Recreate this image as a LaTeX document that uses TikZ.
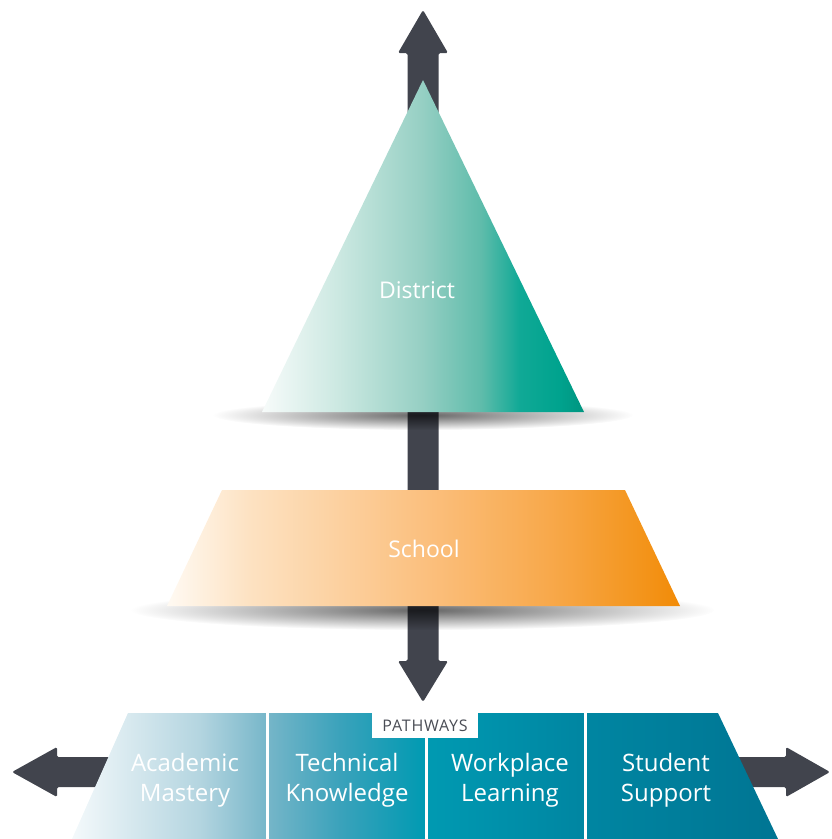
\documentclass[tikz,border=0pt]{standalone}
\usepackage{fontspec}
\setmainfont{Open Sans}
\usetikzlibrary{fadings}

\definecolor{arrowgray}{HTML}{41444D}
\definecolor{labelgray}{HTML}{4A4D55}
% District colours
\definecolor{dA}{HTML}{F7FBFA}
\definecolor{dB}{HTML}{CBE8E1}
\definecolor{dC}{HTML}{95CFC3}
\definecolor{dD}{HTML}{5FBCAB}
\definecolor{dE}{HTML}{10A996}
\definecolor{dF}{HTML}{00A38E}
\definecolor{dG}{HTML}{009580}
% School colours
\definecolor{sA}{HTML}{FFFAF3}
\definecolor{sB}{HTML}{FDE2C2}
\definecolor{sC}{HTML}{FBC07F}
\definecolor{sD}{HTML}{F8A94C}
\definecolor{sE}{HTML}{F3951D}
\definecolor{sF}{HTML}{F28B07}
% Pathways colours
\definecolor{pA}{HTML}{F4F9FB}
\definecolor{pB}{HTML}{B4D5E0}
\definecolor{pC}{HTML}{74B5C8}
\definecolor{pD}{HTML}{3AA2BB}
\definecolor{pE}{HTML}{009AB2}
\definecolor{pF}{HTML}{0086A2}
\definecolor{pG}{HTML}{007593}

\pgfdeclarehorizontalshading{districtshade}{100bp}{color(0bp)=(dA); color(25bp)=(dA); color(37bp)=(dB); color(50bp)=(dC); color(59bp)=(dD); color(65bp)=(dE); color(71bp)=(dF); color(75bp)=(dG); color(100bp)=(dG)}
\pgfdeclarehorizontalshading{schoolshade}{100bp}{color(0bp)=(sA); color(25bp)=(sA); color(33bp)=(sB); color(50bp)=(sC); color(62bp)=(sD); color(71bp)=(sE); color(75bp)=(sF); color(100bp)=(sF)}
\pgfdeclarehorizontalshading{pathshade}{100bp}{color(0bp)=(pA); color(25bp)=(pA); color(34bp)=(pB); color(39bp)=(pC); color(44bp)=(pD); color(50bp)=(pE); color(61bp)=(pF); color(75bp)=(pG); color(100bp)=(pG)}

\tikzfading[name=shadowfade, inner color=transparent!40, outer color=transparent!100]

\tikzset{
  arrowbody/.style={fill=arrowgray, rounded corners=1.5pt},
  floorshadow/.style={fill=black, path fading=shadowfade},
  layerlabel/.style={text=white, font=\fontsize{23}{28}\selectfont},
  pathlabel/.style={text=white, align=center, font=\fontsize{24}{30}\selectfont},
  divider/.style={white, line width=3pt},
}

\begin{document}
\begin{tikzpicture}[x=1pt,y=-1pt]
    \useasboundingbox (0,0) rectangle (831,839);

    % Arrows
    \path[arrowbody] (12,772) -- (57,747) -- (57,757) -- (786,757) -- (786,747)
        -- (830,772) -- (786,797) -- (786,787) -- (57,787) -- (57,797) -- cycle;
    \path[arrowbody] (423,10) -- (448,53) -- (438.5,53) -- (438.5,661) -- (448,661)
        -- (423,702) -- (398,661) -- (407.5,661) -- (407.5,53) -- (398,53) -- cycle;

    % Shadows
    \path[floorshadow] (423,415) ellipse [x radius=210, y radius=15];
    \path[floorshadow] (423,610) ellipse [x radius=292, y radius=20];
    \path[floorshadow] (425,850) ellipse [x radius=400, y radius=22];

    % Layers
    \shade[shading=districtshade] (423,80) -- (584,412) -- (262,412) -- cycle;
    \shade[shading=schoolshade] (222,490) -- (625,490) -- (680,606) -- (167,606) -- cycle;
    \shade[shading=pathshade] (128,713) -- (718,713) -- (778,839) -- (72,839) -- cycle;

    % Dividers
    \draw[divider] (267,713) -- (267,839);
    \draw[divider] (426,713) -- (426,839);
    \draw[divider] (585,713) -- (585,839);

    % Labels
    \node[layerlabel] (district) at (417,290) {District};
    \node[layerlabel] (school) at (424,549) {School};
    \node[fill=white, anchor=north, minimum width=106pt, minimum height=25pt,
        inner sep=0pt, text=labelgray,
        font=\fontsize{16}{18}\selectfont\addfontfeatures{LetterSpace=5}]
        (pathways) at (425,713) {PATHWAYS};
    \node[pathlabel] (academic) at (185,780) {Academic\\Mastery};
    \node[pathlabel] (technical) at (347,780) {Technical\\Knowledge};
    \node[pathlabel] (workplace) at (510,780) {Workplace\\Learning};
    \node[pathlabel] (support) at (666,780) {Student\\Support};

\end{tikzpicture}
\end{document}
